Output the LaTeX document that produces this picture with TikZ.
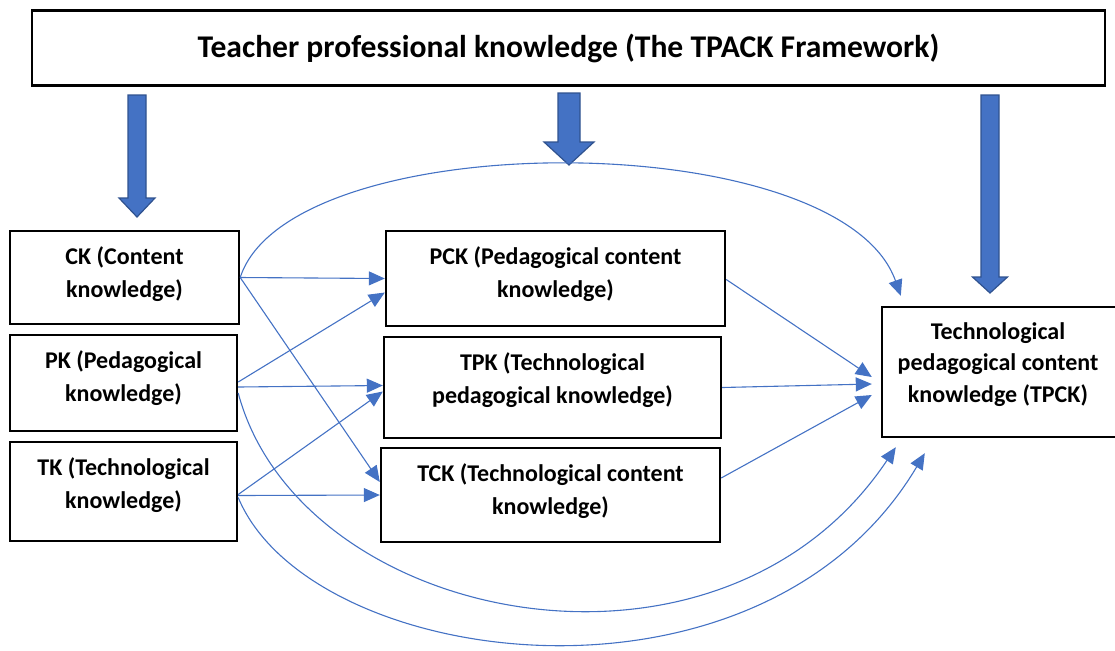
\documentclass[tikz,border=0pt]{standalone}
\usepackage{fontspec}
\setmainfont{Carlito}
\usetikzlibrary{arrows.meta}

\definecolor{officeblue}{HTML}{4472C4}
\definecolor{officeedge}{HTML}{2F528F}

\begin{document}
\begin{tikzpicture}[x=0.5pt,y=-0.5pt,
        box/.style={draw=black,line width=1.2pt,inner sep=0pt},
        boxtext/.style={anchor=north,align=center,inner sep=2pt,
            font=\bfseries\fontsize{12}{16.5}\selectfont},
        link/.style={draw=officeblue,line width=0.55pt,
            -{Triangle[length=8pt,width=7pt]}},
        bigarrow/.style={fill=officeblue,draw=officeedge,line width=0.6pt}]
        \useasboundingbox (0,0) rectangle (1115,650);

        % framework box on top
        \node[box,minimum width=536.5pt,minimum height=37.5pt,
            font=\bfseries\fontsize{15.8}{19}\selectfont] (tpack) at (568.5,48)
            {Teacher professional knowledge (The TPACK Framework)};

        % the three base knowledges
        \node[box,minimum width=114.5pt,minimum height=46.5pt] (ck) at (124.5,277.5) {};
        \node[box,minimum width=113.5pt,minimum height=48pt] (pk) at (123.5,383) {};
        \node[box,minimum width=113.5pt,minimum height=49.5pt] (tk) at (123.5,491.5) {};

        % the combined ones
        \node[box,minimum width=169.5pt,minimum height=47.5pt] (pck) at (555.5,278.5) {};
        \node[box,minimum width=168.5pt,minimum height=50.5pt] (tpk) at (552.5,387.5) {};
        \node[box,minimum width=169.5pt,minimum height=47pt] (tck) at (550.5,495) {};
        \node[box,minimum width=124pt,minimum height=65pt] (tpck) at (1006,372) {};

        \node[boxtext] (cktext) at ([yshift=-6pt]ck.north) {CK (Content\\knowledge)};
        \node[boxtext] (pktext) at ([yshift=-6pt]pk.north) {PK (Pedagogical\\knowledge)};
        \node[boxtext] (tktext) at ([yshift=-6pt]tk.north) {TK (Technological\\knowledge)};
        \node[boxtext] (pcktext) at ([yshift=-6pt]pck.north) {PCK (Pedagogical content\\knowledge)};
        \node[boxtext] (tpktext) at ([yshift=-6pt]tpk.north) {TPK (Technological\\pedagogical knowledge)};
        \node[boxtext] (tcktext) at ([yshift=-6pt]tck.north) {TCK (Technological content\\knowledge)};
        \node[boxtext,font=\bfseries\fontsize{12}{15.8}\selectfont] (tpcktext)
            at ([xshift=-4pt,yshift=-6pt]tpck.north)
            {Technological\\pedagogical content\\knowledge (TPCK)};

        % thick arrows below the framework box
        \foreach \x/\ya/\yb/\yc/\s/\h in {137/95/198/217/9/18,
                569/93/142/165/11/25, 990/95/277/293/9/17.5}
            \draw[bigarrow] (\x-\s,\ya) -- (\x+\s,\ya) -- (\x+\s,\yb) -- (\x+\h,\yb)
                -- (\x,\yc) -- (\x-\h,\yb) -- (\x-\s,\yb) -- cycle;

        % CK
        \draw[link] (ck.east) -- (pck.west);
        \draw[link] (ck.east) -- ([yshift=6.5pt]tck.west);
        \draw[link] (ck.east) .. controls (290,124) and (840,124)
            .. ([xshift=10pt,yshift=5pt]tpck.north west);

        % PK
        \draw[link] ([yshift=0.5pt]pk.east) -- ([yshift=-7pt]pck.west);
        \draw[link] ([yshift=-2pt]pk.east) -- ([yshift=1pt]tpk.west);
        \draw[link] ([yshift=-5pt]pk.east) .. controls (300,625) and (720,710)
            .. ([xshift=7.5pt,yshift=-4.5pt]tpck.south west);

        % TK
        \draw[link] ([yshift=-1.5pt]tk.east) -- ([yshift=-2pt]tpk.west);
        \draw[link] ([yshift=-2pt]tk.east) -- (tck.west);
        \draw[link] ([yshift=-3pt]tk.east) .. controls (310,670) and (760,730)
            .. ([xshift=22pt,yshift=-7.5pt]tpck.south west);

        % into TPCK
        \draw[link] ([yshift=-0.5pt]pck.east) -- ([xshift=-4.5pt,yshift=-2.5pt]tpck.west);
        \draw[link] (tpk.east) -- ([xshift=-4.5pt,yshift=-6pt]tpck.west);
        \draw[link] ([yshift=8.5pt]tck.east) -- ([xshift=-4.5pt,yshift=-11.5pt]tpck.west);
    \end{tikzpicture}
\end{document}
